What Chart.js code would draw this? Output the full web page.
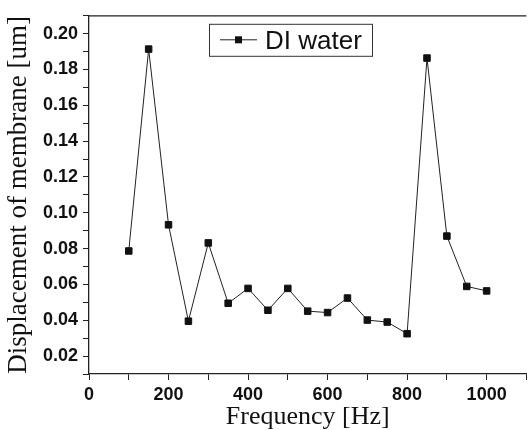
<!DOCTYPE html>
<html>
<head>
<meta charset="utf-8">
<script src="https://cdn.jsdelivr.net/npm/chart.js@4.4.0/dist/chart.umd.min.js"></script>
<style>
  html, body { margin: 0; padding: 0; background: #fff; overflow: hidden; }
</style>
</head>
<body>
<canvas id="myChart" width="532" height="430"></canvas>
<script>
// data
let frequencies = [100, 150, 200, 250, 300, 350, 400, 450, 500, 550, 600, 650, 700, 750, 800, 850, 900, 950, 1000];
let displacement = [0.0787, 0.1914, 0.0933, 0.0395, 0.0832, 0.0495, 0.0578, 0.0456, 0.0578, 0.0451, 0.0443, 0.0524, 0.0401, 0.0390, 0.0325, 0.1864, 0.0870, 0.0589, 0.0564];
let seriesLabel = 'DI water';
let xTitle = 'Frequency [Hz]';
let yTitle = 'Displacement of membrane [um]';

let ctx = document.getElementById('myChart');

// frame line on top + boxed legend with line and square marker
const framePlugin = {
   id: 'frame',
   afterDraw(chart) {
      const c = chart.ctx;
      const a = chart.chartArea;
      c.save();
      c.strokeStyle = '#222';
      c.lineWidth = 1.3;
      c.beginPath();
      c.moveTo(a.left, a.top);
      c.lineTo(a.right, a.top);
      c.stroke();

      // legend box
      let bx = a.left + 120, by = a.top + 8, bw = 163, bh = 32;
      c.fillStyle = '#fff';
      c.fillRect(bx, by, bw, bh);
      c.lineWidth = 1;
      c.strokeStyle = '#333';
      c.strokeRect(bx + 0.5, by + 0.5, bw, bh);
      let ly = by + bh / 2;
      c.strokeStyle = '#222';
      c.beginPath();
      c.moveTo(bx + 11, ly);
      c.lineTo(bx + 48, ly);
      c.stroke();
      c.fillStyle = '#111';
      c.fillRect(bx + 26, ly - 3.5, 7, 7);
      c.font = '26px "Liberation Sans", Arial, sans-serif';
      c.textBaseline = 'middle';
      c.textAlign = 'left';
      c.fillText(chart.data.datasets[0].label, bx + 56, ly + 2);
      c.restore();
   }
};

let myChart = new Chart(ctx, {
   type: 'line',
   data: {
      datasets: [{
         label: seriesLabel,
         data: frequencies.map((f, i) => ({ x: f, y: displacement[i] })),
         borderColor: '#222',
         borderWidth: 1,
         pointStyle: 'rect',
         pointRadius: 4.6,
         pointBackgroundColor: '#111',
         pointBorderColor: '#111',
         pointBorderWidth: 1,
         tension: 0
      }]
   },
   options: {
      responsive: false,
      animation: false,
      layout: { padding: { top: 13, right: 0, left: 0, bottom: 0 } },
      plugins: {
         legend: { display: false },
         tooltip: { enabled: false }
      },
      scales: {
         x: {
            type: 'linear',
            min: 0,
            max: 1100,
            afterFit(scale) { scale.height = 56; },
            ticks: {
               stepSize: 100,
               autoSkip: false,
               maxRotation: 0,
               padding: 4,
               color: '#111',
               font: { family: '"Liberation Sans", Arial, sans-serif', size: 18, weight: 'bold' },
               callback: v => (v % 200 === 0 && v <= 1000) ? String(v) : ''
            },
            grid: { drawOnChartArea: false, tickLength: 6, color: '#222', tickColor: '#222' },
            border: { color: '#222', width: 1.3 },
            title: {
               display: true,
               text: xTitle,
               color: '#111',
               padding: 0,
               font: { family: '"Liberation Serif", "Times New Roman", serif', size: 26, lineHeight: 1 }
            }
         },
         y: {
            min: 0.01,
            max: 0.21,
            afterFit(scale) { scale.width = 89; },
            ticks: {
               stepSize: 0.01,
               autoSkip: false,
               padding: 5,
               color: '#111',
               font: { family: '"Liberation Sans", Arial, sans-serif', size: 18, weight: 'bold' },
               callback: v => (Math.round(v * 100) % 2 === 0) ? v.toFixed(2) : ''
            },
            grid: { drawOnChartArea: false, tickLength: 6, color: '#222', tickColor: '#222' },
            border: { color: '#222', width: 1.3 },
            title: {
               display: true,
               text: yTitle,
               color: '#111',
               padding: { top: 5, bottom: 0 },
               font: { family: '"Liberation Serif", "Times New Roman", serif', size: 27, lineHeight: 1 }
            }
         }
      }
   },
   plugins: [framePlugin]
});
</script>
</body>
</html>
